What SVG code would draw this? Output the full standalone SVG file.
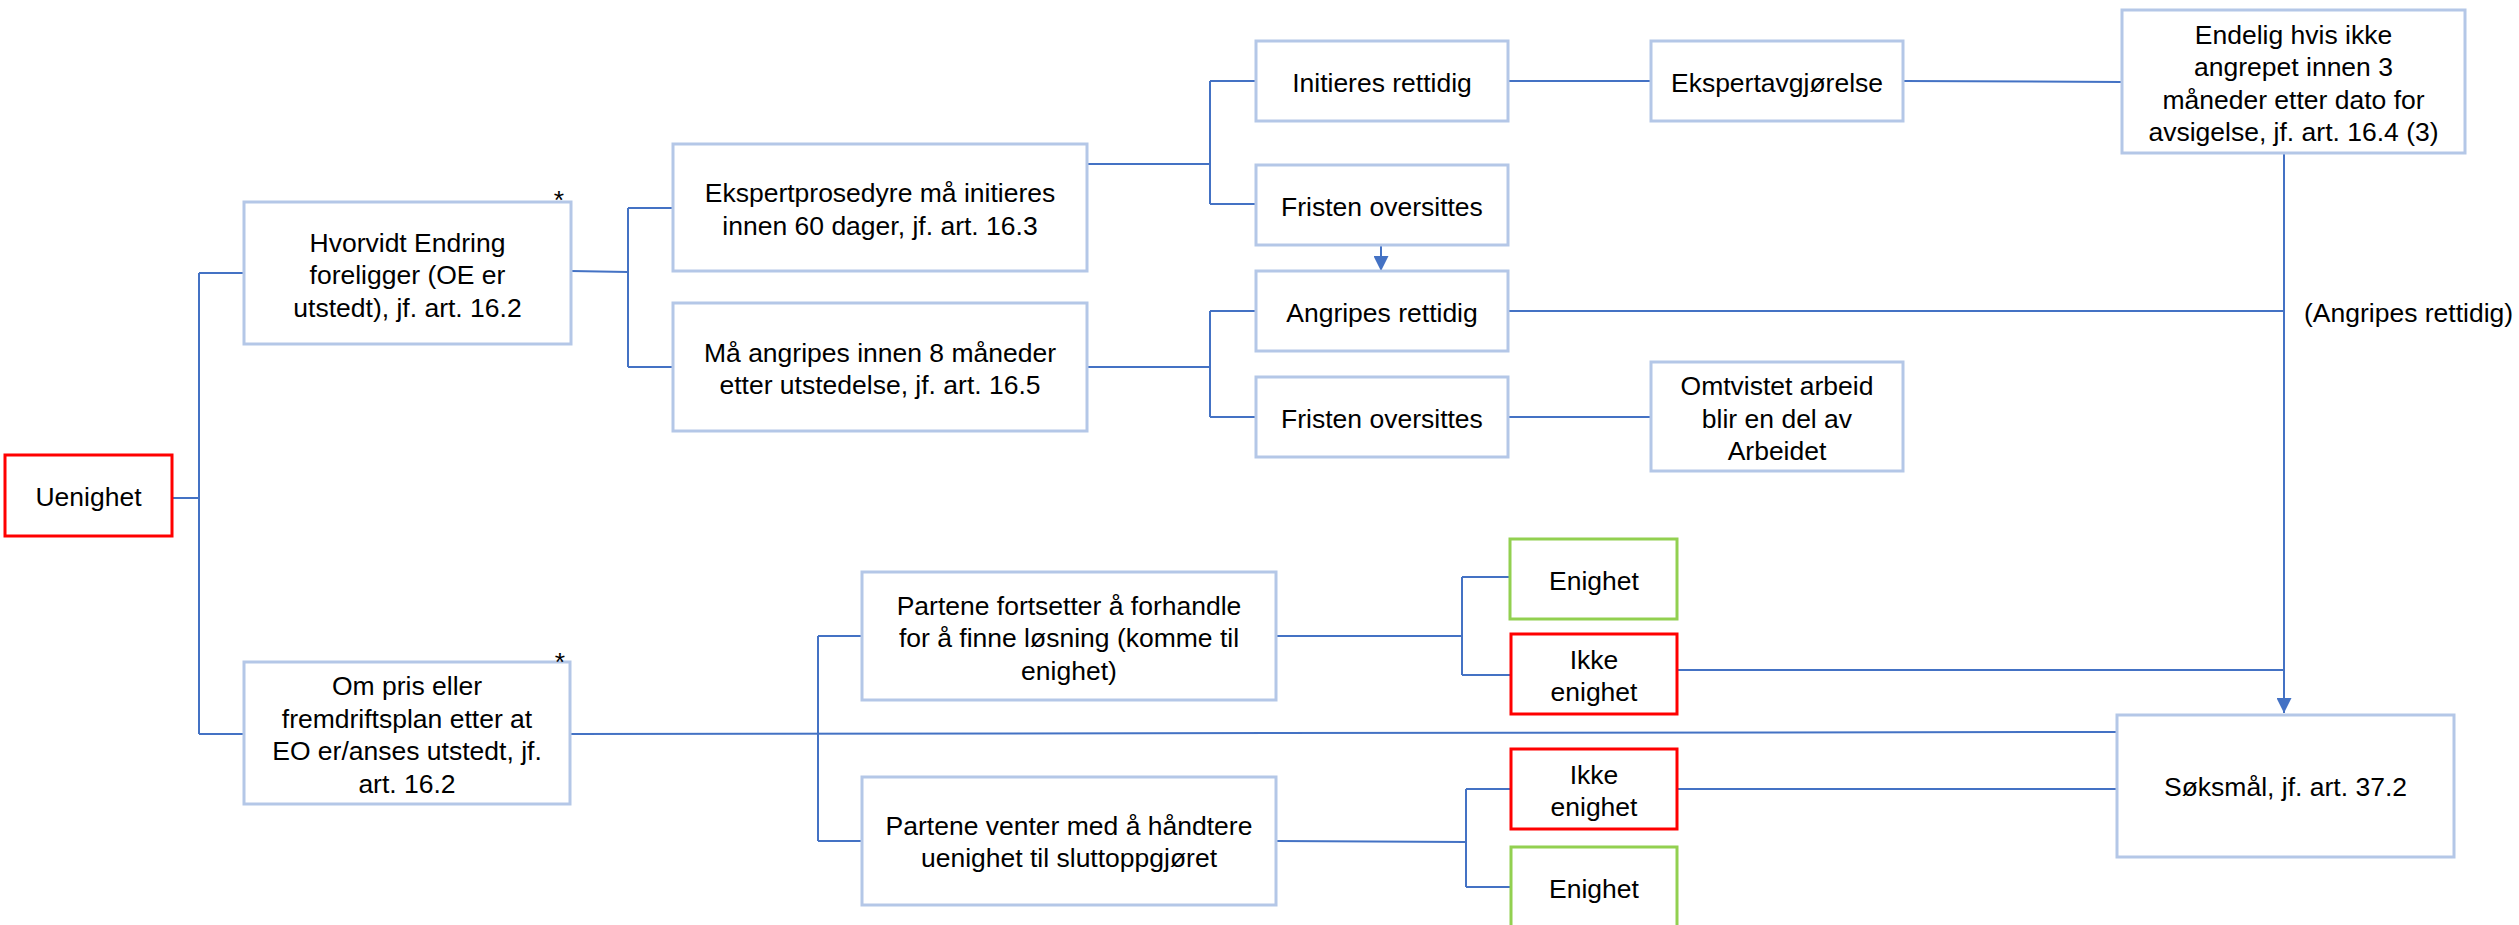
<svg xmlns="http://www.w3.org/2000/svg" width="2519" height="925" viewBox="0 0 2519 925">
<style>
.box{fill:#FFFFFF;stroke:#B4C7E7;stroke-width:3}
.red{fill:#FFFFFF;stroke:#FF0000;stroke-width:3}
.green{fill:#FFFFFF;stroke:#92D050;stroke-width:3}
.t{font-family:"Liberation Sans",Arial,sans-serif;font-size:26.5px;fill:#000000;text-anchor:middle}
.tl{font-family:"Liberation Sans",Arial,sans-serif;font-size:26.5px;fill:#000000;text-anchor:start}
.c{fill:none;stroke:#4472C4;stroke-width:2}
</style>
<defs>
<marker id="arr" markerWidth="15" markerHeight="15" refX="15" refY="7.5" orient="auto" markerUnits="userSpaceOnUse">
<path d="M0,0 L15,7.5 L0,15 z" fill="#4472C4"/>
</marker>
</defs>
<rect width="2519" height="925" fill="#FFFFFF"/>
<g id="connectors">
<path class="c" d="M172,498 H199 M199,273 V734 M199,273 H244 M199,734 H244"/>
<path class="c" d="M571,271 L628,272 M628,208 V367 M628,208 H673 M628,367 H673"/>
<path class="c" d="M1087,164 H1210 M1210,81 V204 M1210,81 H1256 M1210,204 H1256"/>
<path class="c" d="M1087,367 H1210 M1210,311 V417 M1210,311 H1256 M1210,417 H1256"/>
<path class="c" d="M1508,81 H1651"/>
<path class="c" d="M1903,81 L2122,82"/>
<path class="c" d="M1381,245 V271" marker-end="url(#arr)"/>
<path class="c" d="M1508,417 H1651"/>
<path class="c" d="M1508,311 H2284"/>
<path class="c" d="M2284,153 V713" marker-end="url(#arr)"/>
<path class="c" d="M1677,670 H2284"/>
<path class="c" d="M570,734 L2117,732"/>
<path class="c" d="M818,636 V841 M818,636 H862 M818,841 H862"/>
<path class="c" d="M1276,636 H1462 M1462,577 V675 M1462,577 H1510 M1462,675 H1511"/>
<path class="c" d="M1276,841 L1466,842 M1466,789 V887 M1466,789 H1511 M1466,887 H1511"/>
<path class="c" d="M1677,789 H2117"/>
</g>
<g id="uenighet"><rect class="red" x="5" y="455" width="167" height="81"/><text class="t" x="88.5" y="506">Uenighet</text></g>
<g id="hvorvidt"><rect class="box" x="244" y="202" width="327" height="142"/>
<text class="t" x="407.5"><tspan x="407.5" y="251.5">Hvorvidt Endring</tspan><tspan x="407.5" y="284">foreligger (OE er</tspan><tspan x="407.5" y="316.5">utstedt), jf. art. 16.2</tspan></text>
<text class="t" x="559" y="208.5">*</text></g>
<g id="ompris"><rect class="box" x="244" y="662" width="326" height="142"/>
<text class="t" x="407"><tspan x="407" y="695.25">Om pris eller</tspan><tspan x="407" y="727.75">fremdriftsplan etter at</tspan><tspan x="407" y="760.25">EO er/anses utstedt, jf.</tspan><tspan x="407" y="792.75">art. 16.2</tspan></text>
<text class="t" x="560" y="671">*</text></g>
<g id="ekspertprosedyre"><rect class="box" x="673" y="144" width="414" height="127"/>
<text class="t" x="880"><tspan x="880" y="202.25">Ekspertprosedyre må initieres</tspan><tspan x="880" y="234.75">innen 60 dager, jf. art. 16.3</tspan></text></g>
<g id="maangripes"><rect class="box" x="673" y="303" width="414" height="128"/>
<text class="t" x="880"><tspan x="880" y="361.75">Må angripes innen 8 måneder</tspan><tspan x="880" y="394.25">etter utstedelse, jf. art. 16.5</tspan></text></g>
<g id="initieres"><rect class="box" x="1256" y="41" width="252" height="80"/><text class="t" x="1382" y="92">Initieres rettidig</text></g>
<g id="fristen1"><rect class="box" x="1256" y="165" width="252" height="80"/><text class="t" x="1382" y="216">Fristen oversittes</text></g>
<g id="angripes"><rect class="box" x="1256" y="271" width="252" height="80"/><text class="t" x="1382" y="322">Angripes rettidig</text></g>
<g id="fristen2"><rect class="box" x="1256" y="377" width="252" height="80"/><text class="t" x="1382" y="428">Fristen oversittes</text></g>
<g id="ekspertavgjorelse"><rect class="box" x="1651" y="41" width="252" height="80"/><text class="t" x="1777" y="92">Ekspertavgjørelse</text></g>
<g id="omtvistet"><rect class="box" x="1651" y="362" width="252" height="109"/>
<text class="t" x="1777"><tspan x="1777" y="395">Omtvistet arbeid</tspan><tspan x="1777" y="427.5">blir en del av</tspan><tspan x="1777" y="460">Arbeidet</tspan></text></g>
<g id="endelig"><rect class="box" x="2122" y="10" width="343" height="143"/>
<text class="t" x="2293.5"><tspan x="2293.5" y="43.75">Endelig hvis ikke</tspan><tspan x="2293.5" y="76.25">angrepet innen 3</tspan><tspan x="2293.5" y="108.75">måneder etter dato for</tspan><tspan x="2293.5" y="141.25">avsigelse, jf. art. 16.4 (3)</tspan></text></g>
<g id="label-angripes"><text class="tl" x="2304" y="322">(Angripes rettidig)</text></g>
<g id="partene-fortsetter"><rect class="box" x="862" y="572" width="414" height="128"/>
<text class="t" x="1069"><tspan x="1069" y="614.5">Partene fortsetter å forhandle</tspan><tspan x="1069" y="647">for å finne løsning (komme til</tspan><tspan x="1069" y="679.5">enighet)</tspan></text></g>
<g id="partene-venter"><rect class="box" x="862" y="777" width="414" height="128"/>
<text class="t" x="1069"><tspan x="1069" y="834.75">Partene venter med å håndtere</tspan><tspan x="1069" y="867.25">uenighet til sluttoppgjøret</tspan></text></g>
<g id="enighet1"><rect class="green" x="1510" y="539" width="167" height="80"/><text class="t" x="1594" y="590">Enighet</text></g>
<g id="ikke1"><rect class="red" x="1511" y="634" width="166" height="80"/>
<text class="t" x="1594"><tspan x="1594" y="668.75">Ikke</tspan><tspan x="1594" y="701.25">enighet</tspan></text></g>
<g id="ikke2"><rect class="red" x="1511" y="749" width="166" height="80"/>
<text class="t" x="1594"><tspan x="1594" y="783.75">Ikke</tspan><tspan x="1594" y="816.25">enighet</tspan></text></g>
<g id="enighet2"><rect class="green" x="1511" y="847" width="166" height="80"/><text class="t" x="1594" y="898">Enighet</text></g>
<g id="soksmal"><rect class="box" x="2117" y="715" width="337" height="142"/><text class="t" x="2285.5" y="796">Søksmål, jf. art. 37.2</text></g>
</svg>
